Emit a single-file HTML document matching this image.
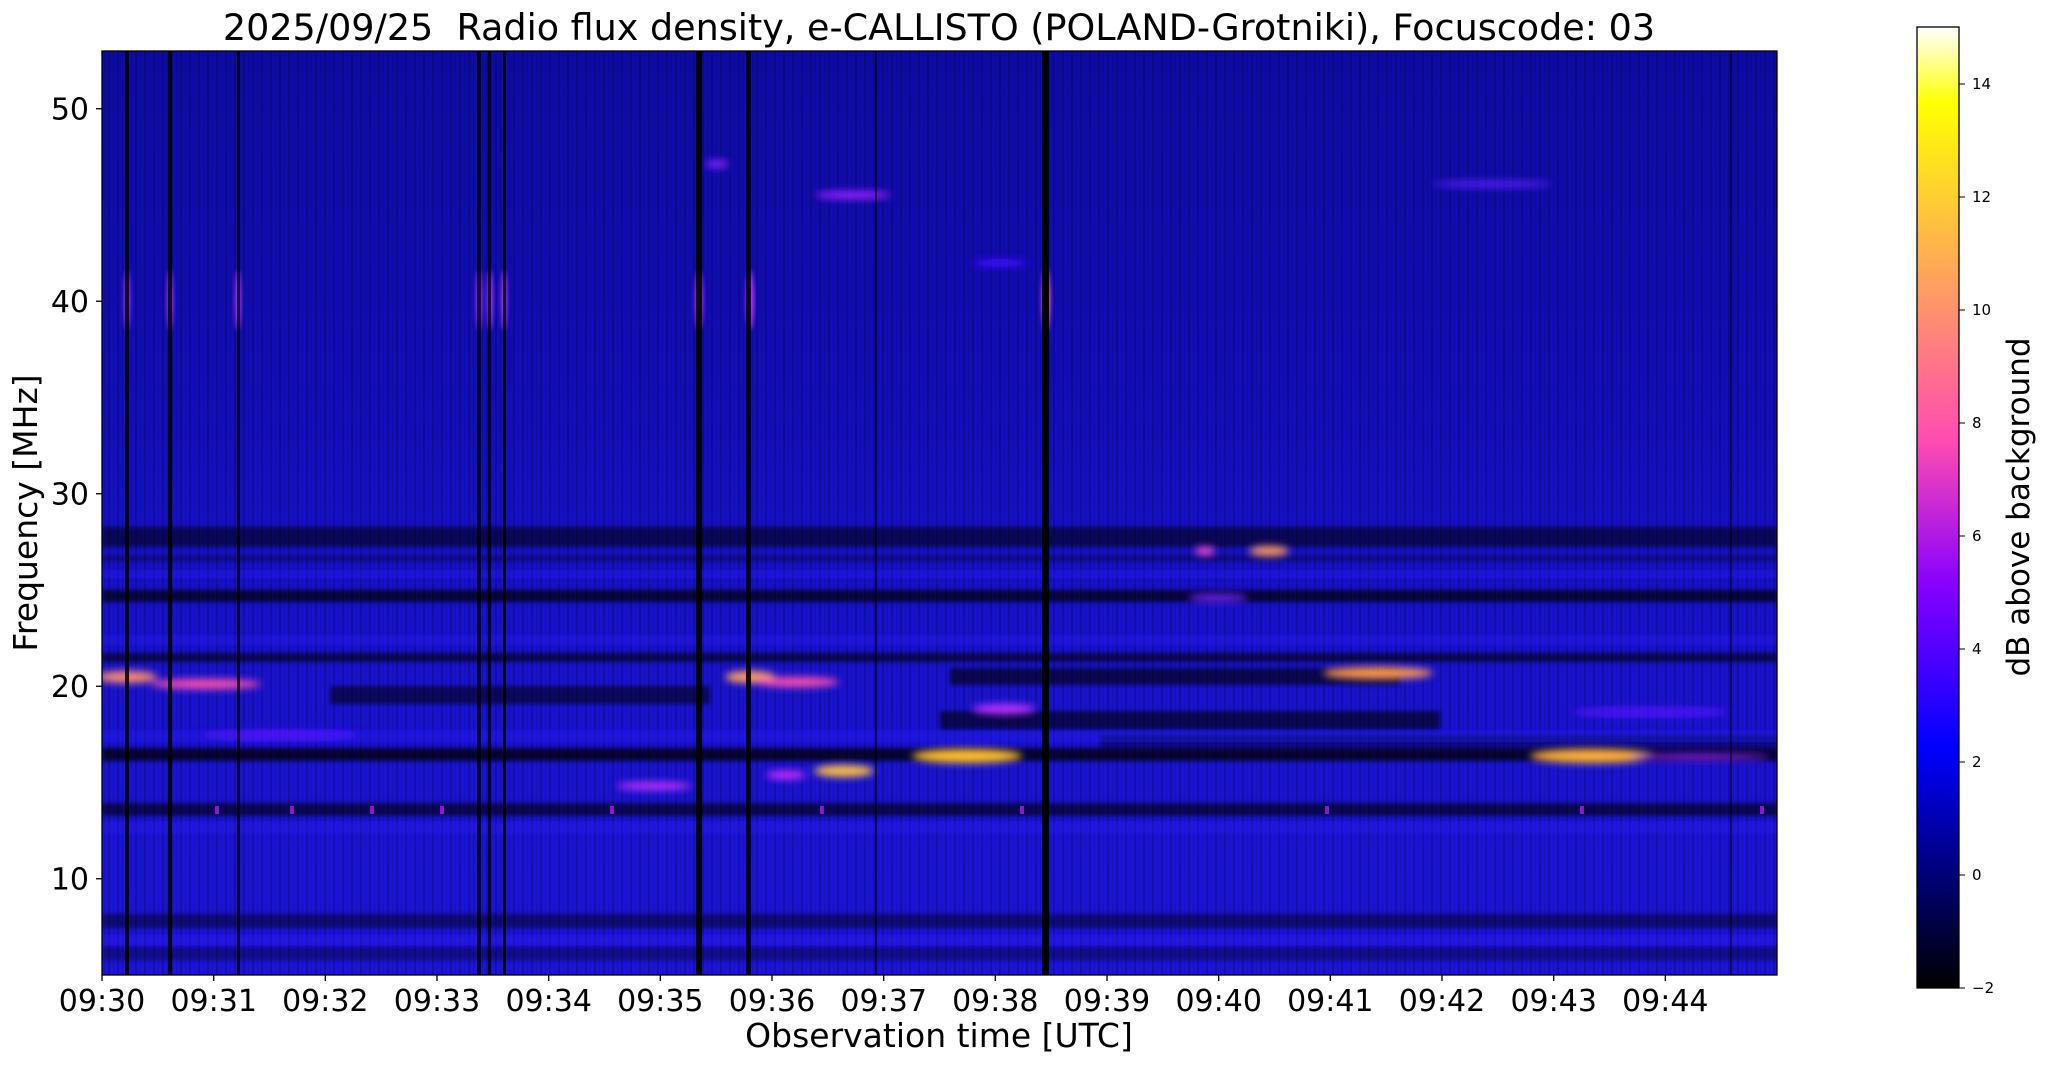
<!DOCTYPE html>
<html><head><meta charset="utf-8"><style>
html,body{margin:0;padding:0;background:#fff;}
svg{display:block;}
text{font-family:"DejaVu Sans","Liberation Sans",sans-serif;fill:#000;}
</style></head><body>
<svg width="2047" height="1067" viewBox="0 0 2047 1067" xmlns="http://www.w3.org/2000/svg">
<defs>
<clipPath id="pc"><rect x="102" y="51" width="1675" height="924"/></clipPath>
<filter id="b4" x="-50%" y="-50%" width="200%" height="200%"><feGaussianBlur stdDeviation="4"/></filter>
<filter id="b2" x="-50%" y="-50%" width="200%" height="200%"><feGaussianBlur stdDeviation="2"/></filter>
<linearGradient id="cb" x1="0" y1="1" x2="0" y2="0">
<stop offset="0" stop-color="#000000"/>
<stop offset="0.25" stop-color="#0000ff"/>
<stop offset="0.42" stop-color="#8700ff"/>
<stop offset="0.57" stop-color="#ff4cb0"/>
<stop offset="0.75" stop-color="#ffa857"/>
<stop offset="0.92" stop-color="#ffff00"/>
<stop offset="1" stop-color="#ffffff"/>
</linearGradient>
<linearGradient id="bg" x1="0" y1="0" x2="0" y2="1">
<stop offset="0" stop-color="#0e0ba4"/>
<stop offset="0.35" stop-color="#120db6"/>
<stop offset="0.6" stop-color="#1812cc"/>
<stop offset="1" stop-color="#1c14d8"/>
</linearGradient>
<pattern id="vs" width="9" height="20" patternUnits="userSpaceOnUse">
<rect x="0" y="0" width="2" height="20" fill="#000" opacity="0.2"/>
<rect x="5" y="0" width="1" height="20" fill="#000" opacity="0.12"/>
</pattern>
</defs>
<g clip-path="url(#pc)">
<rect x="102" y="51" width="1675" height="924" fill="url(#bg)"/>
<rect x="102" y="51" width="1675" height="924" fill="url(#vs)"/>
<g filter="url(#b2)">
<rect x="102" y="527" width="1675" height="20" fill="#000" opacity="0.55"/>
<rect x="102" y="556" width="1675" height="5" fill="#000" opacity="0.4"/>
<rect x="102" y="590" width="1675" height="12" fill="#000" opacity="0.7"/>
<rect x="102" y="653" width="1675" height="9" fill="#000" opacity="0.6"/>
<rect x="950" y="668" width="450" height="17" fill="#000" opacity="0.6"/>
<rect x="330" y="686" width="380" height="18" fill="#000" opacity="0.55"/>
<rect x="940" y="711" width="500" height="20" fill="#000" opacity="0.6"/>
<rect x="102" y="748" width="1675" height="13" fill="#000" opacity="0.75"/>
<rect x="1100" y="735" width="677" height="12" fill="#000" opacity="0.45"/>
<rect x="102" y="803" width="1675" height="13" fill="#000" opacity="0.6"/>
<rect x="102" y="914" width="1675" height="14" fill="#000" opacity="0.45"/>
<rect x="102" y="946" width="1675" height="14" fill="#000" opacity="0.35"/>
<rect x="102" y="570" width="1675" height="8" fill="#2a20ff" opacity="0.35"/>
<rect x="102" y="635" width="1675" height="10" fill="#2a20ff" opacity="0.3"/>
<rect x="102" y="730" width="1675" height="12" fill="#2a20ff" opacity="0.35"/>
<rect x="102" y="822" width="1675" height="12" fill="#2a20ff" opacity="0.3"/>
<rect x="102" y="935" width="1675" height="10" fill="#3020ff" opacity="0.35"/>
</g>
<g fill="#c020ff" opacity="0.7">
<rect x="215" y="806" width="4" height="8"/><rect x="290" y="806" width="4" height="8"/><rect x="370" y="806" width="4" height="8"/><rect x="440" y="806" width="4" height="8"/><rect x="610" y="806" width="4" height="8"/><rect x="820" y="806" width="4" height="8"/><rect x="1020" y="806" width="4" height="8"/><rect x="1325" y="806" width="4" height="8"/><rect x="1580" y="806" width="4" height="8"/><rect x="1760" y="806" width="4" height="8"/>
</g>
<g filter="url(#b4)">
<ellipse cx="127" cy="677" rx="30" ry="6" fill="#ff8a70"/>
<ellipse cx="206" cy="684" rx="55" ry="5" fill="#ff50b0"/>
<ellipse cx="750" cy="677" rx="25" ry="6" fill="#ffa060"/>
<ellipse cx="797" cy="682" rx="42" ry="5" fill="#ff50b0"/>
<ellipse cx="786" cy="775" rx="20" ry="4" fill="#d030ff"/>
<ellipse cx="844" cy="771" rx="30" ry="6" fill="#ffc040"/>
<ellipse cx="967" cy="756" rx="55" ry="7" fill="#ffc030"/>
<ellipse cx="1378" cy="673" rx="55" ry="6" fill="#ff9a50"/>
<ellipse cx="1592" cy="756" rx="62" ry="7" fill="#ffb040"/>
<ellipse cx="1269" cy="551" rx="20" ry="5" fill="#ff9a50"/>
<ellipse cx="1205" cy="551" rx="10" ry="4" fill="#ff50c0"/>
<ellipse cx="1218" cy="598" rx="30" ry="4" fill="#7020ff"/>
<ellipse cx="853" cy="195" rx="38" ry="4" fill="#9a20ff"/>
<ellipse cx="717" cy="164" rx="12" ry="4" fill="#8020ff"/>
<ellipse cx="1492" cy="184" rx="60" ry="3" fill="#6020ff"/>
<ellipse cx="1000" cy="263" rx="28" ry="4" fill="#4010ff"/>
<ellipse cx="1004" cy="709" rx="32" ry="5" fill="#c030ff"/>
<ellipse cx="654" cy="786" rx="38" ry="4" fill="#c030ff"/>
<ellipse cx="1650" cy="712" rx="80" ry="4" fill="#5a18ff"/>
<ellipse cx="280" cy="735" rx="80" ry="4" fill="#5a18ff"/>
<ellipse cx="1700" cy="757" rx="70" ry="3" fill="#9020ff"/>
</g>
<g filter="url(#b2)">
<ellipse cx="127" cy="300" rx="3" ry="30" fill="#a030ff"/>
<ellipse cx="170" cy="300" rx="3" ry="30" fill="#a030ff"/>
<ellipse cx="238" cy="300" rx="3" ry="30" fill="#a030ff"/>
<ellipse cx="479" cy="300" rx="3" ry="30" fill="#a030ff"/>
<ellipse cx="490" cy="300" rx="3" ry="30" fill="#a030ff"/>
<ellipse cx="504" cy="300" rx="3" ry="30" fill="#a030ff"/>
<ellipse cx="699" cy="300" rx="4" ry="30" fill="#b030ff"/>
<ellipse cx="750" cy="300" rx="4" ry="30" fill="#b030ff"/>
<ellipse cx="1046" cy="300" rx="4" ry="32" fill="#ff60c0"/>
</g>
<g fill="#000">
<rect x="125" y="51" width="4" height="924" opacity="0.85"/>
<rect x="168" y="51" width="4" height="924" opacity="0.85"/>
<rect x="237" y="51" width="3" height="924" opacity="0.8"/>
<rect x="477" y="51" width="4" height="924" opacity="0.8"/>
<rect x="488" y="51" width="3" height="924" opacity="0.8"/>
<rect x="503" y="51" width="3" height="924" opacity="0.8"/>
<rect x="696" y="51" width="6" height="924" opacity="0.9"/>
<rect x="746" y="51" width="5" height="924" opacity="0.9"/>
<rect x="875" y="51" width="2" height="924" opacity="0.6"/>
<rect x="1042" y="51" width="7" height="924"/>
<rect x="1730" y="51" width="2" height="924" opacity="0.5"/>
</g>
</g>
<rect x="102" y="51" width="1675" height="924" fill="none" stroke="#000" stroke-width="1.3"/>
<g stroke="#000" stroke-width="1.3">
<line x1="102" y1="975" x2="102" y2="981"/><line x1="213.7" y1="975" x2="213.7" y2="981"/><line x1="325.3" y1="975" x2="325.3" y2="981"/><line x1="437" y1="975" x2="437" y2="981"/><line x1="548.7" y1="975" x2="548.7" y2="981"/><line x1="660.3" y1="975" x2="660.3" y2="981"/><line x1="772" y1="975" x2="772" y2="981"/><line x1="883.7" y1="975" x2="883.7" y2="981"/><line x1="995.3" y1="975" x2="995.3" y2="981"/><line x1="1107" y1="975" x2="1107" y2="981"/><line x1="1218.7" y1="975" x2="1218.7" y2="981"/><line x1="1330.3" y1="975" x2="1330.3" y2="981"/><line x1="1442" y1="975" x2="1442" y2="981"/><line x1="1553.7" y1="975" x2="1553.7" y2="981"/><line x1="1665.3" y1="975" x2="1665.3" y2="981"/>
<line x1="96" y1="878.75" x2="102" y2="878.75"/><line x1="96" y1="686.25" x2="102" y2="686.25"/><line x1="96" y1="493.75" x2="102" y2="493.75"/><line x1="96" y1="301.25" x2="102" y2="301.25"/><line x1="96" y1="108.75" x2="102" y2="108.75"/>
</g>
<g font-size="30" text-anchor="middle">
<text x="102" y="1011">09:30</text><text x="213.7" y="1011">09:31</text><text x="325.3" y="1011">09:32</text><text x="437" y="1011">09:33</text><text x="548.7" y="1011">09:34</text><text x="660.3" y="1011">09:35</text><text x="772" y="1011">09:36</text><text x="883.7" y="1011">09:37</text><text x="995.3" y="1011">09:38</text><text x="1107" y="1011">09:39</text><text x="1218.7" y="1011">09:40</text><text x="1330.3" y="1011">09:41</text><text x="1442" y="1011">09:42</text><text x="1553.7" y="1011">09:43</text><text x="1665.3" y="1011">09:44</text>
</g>
<g font-size="30" text-anchor="end">
<text x="89" y="889.5">10</text><text x="89" y="697">20</text><text x="89" y="504.5">30</text><text x="89" y="312">40</text><text x="89" y="119.5">50</text>
</g>
<text x="939" y="1047" font-size="33" text-anchor="middle">Observation time [UTC]</text>
<text transform="translate(37,513) rotate(-90)" font-size="33" text-anchor="middle">Frequency [MHz]</text>
<text x="939" y="40" font-size="36.5" text-anchor="middle">2025/09/25&#160; Radio flux density, e-CALLISTO (POLAND-Grotniki), Focuscode: 03</text>
<rect x="1917" y="27" width="42" height="961" fill="url(#cb)" stroke="#000" stroke-width="1.3"/>
<g stroke="#000" stroke-width="1">
<line x1="1959" y1="988" x2="1965" y2="988"/><line x1="1959" y1="875" x2="1965" y2="875"/><line x1="1959" y1="762" x2="1965" y2="762"/><line x1="1959" y1="649" x2="1965" y2="649"/><line x1="1959" y1="536" x2="1965" y2="536"/><line x1="1959" y1="423" x2="1965" y2="423"/><line x1="1959" y1="310" x2="1965" y2="310"/><line x1="1959" y1="197" x2="1965" y2="197"/><line x1="1959" y1="84" x2="1965" y2="84"/>
</g>
<g font-size="15">
<text x="1972" y="993">−2</text><text x="1972" y="880">0</text><text x="1972" y="767">2</text><text x="1972" y="654">4</text><text x="1972" y="541">6</text><text x="1972" y="428">8</text><text x="1972" y="315">10</text><text x="1972" y="202">12</text><text x="1972" y="89">14</text>
</g>
<text transform="translate(2029,507) rotate(-90)" font-size="31" text-anchor="middle">dB above background</text>
</svg>
</body></html>
